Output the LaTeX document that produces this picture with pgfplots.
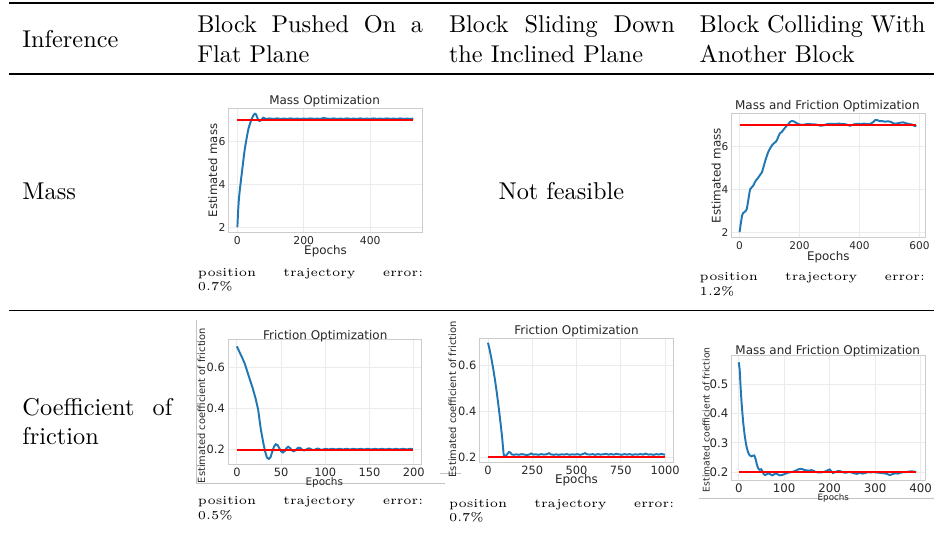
\documentclass[border=0pt]{standalone}
\usepackage{fontspec}
\usepackage{pgfplots}
\pgfplotsset{compat=1.18}
\newfontfamily\dejavu{DejaVu Sans}
\definecolor{mplblue}{HTML}{1F77B4}
\definecolor{mplred}{HTML}{FF0000}
\definecolor{frameg}{HTML}{CCCCCC}
\definecolor{gridg}{HTML}{EBEBEB}
\definecolor{txt}{HTML}{262626}
\definecolor{artg}{HTML}{C4C4C4}
\def\pxs{0.41118}
\pgfplotsset{
  mpl/.style={
    scale only axis, width=79.7pt, height=51.3pt, anchor=south west,
    axis line style={draw=frameg, line width=0.45pt},
    grid=major, major grid style={draw=gridg, line width=0.4pt},
    major tick length=0pt, minor tick length=0pt, tick style={draw=none},
    /pgf/number format/assume math mode=true,
    /pgf/number format/1000 sep={},
    xticklabel style={inner sep=1.3pt, text=txt},
    yticklabel style={inner sep=1.1pt, text=txt},
    title style={anchor=center, inner sep=0pt, yshift=-6.6pt, text=txt, font=\dejavu\fontsize{4.93}{5.5}\selectfont},
    xlabel style={anchor=center, inner sep=0pt, text=txt},
    ylabel style={anchor=center, inner sep=0pt, text=txt},
  },
  tfs/.style={tick label style={font=\dejavu\fontsize{#1}{#1}\selectfont}},
  xfs/.style={xlabel style={font=\dejavu\fontsize{#1}{#1}\selectfont}},
  yfs/.style={ylabel style={font=\dejavu\fontsize{#1}{#1}\selectfont}},
  blue line/.style={mplblue, line width=0.8pt, no marks},
  red line/.style={mplred, line width=0.8pt, no marks},
}
\begin{document}
\begin{tikzpicture}
\begin{scope}[x=\pxs pt, y=-\pxs pt]
\useasboundingbox (0,0) rectangle (935,535);
% rules
\draw[line width=0.8pt] (9,2.6) -- (935,2.6);
\draw[line width=0.7pt] (9,74.3) -- (935,74.3);
\draw[line width=0.6pt] (9,310.8) -- (935,310.8);
% image border artefacts
\draw[artg, line width=0.4pt] (196.7,320) -- (196.7,483.5) -- (445,483.5);
\draw[artg, line width=0.4pt] (440,474.3) -- (461.7,474.3);
\draw[artg, line width=0.4pt] (700,499.3) -- (935,499.3);
% header
\node[anchor=base west, inner sep=0pt] at (22,48) {Inference};
\node[anchor=base west, inner sep=0pt] at (197,33) {\parbox[t]{92.93pt}{Block Pushed On a\linebreak Flat Plane}};
\node[anchor=base west, inner sep=0pt] at (449,33) {\parbox[t]{92.93pt}{Block Sliding Down\linebreak the Inclined Plane}};
\node[anchor=base west, inner sep=0pt] at (700,33) {\parbox[t]{92.93pt}{Block Colliding With\linebreak Another Block}};
% rows
\node[anchor=base west, inner sep=0pt] at (22,200) {Mass};
\node[anchor=base, inner sep=0pt] at (562,200) {Not feasible};
\node[anchor=base west, inner sep=0pt] at (22,416) {\parbox[t]{61.68pt}{Coefficient of\linebreak friction}};
% error notes
\node[anchor=base west, inner sep=0pt] at (197.7,276.7) {\parbox[t]{92.7pt}{\tiny position trajectory error:\linebreak 0.7\%}};
\node[anchor=base west, inner sep=0pt] at (700,281) {\parbox[t]{92.7pt}{\tiny position trajectory error:\linebreak 1.2\%}};
\node[anchor=base west, inner sep=0pt] at (197.7,505) {\parbox[t]{92.7pt}{\tiny position trajectory error:\linebreak 0.5\%}};
\node[anchor=base west, inner sep=0pt] at (449,507.7) {\parbox[t]{92.7pt}{\tiny position trajectory error:\linebreak 0.7\%}};
\end{scope}

% ---------- Plot 1: mass, flat plane ----------
\begin{axis}[mpl, at={(229*\pxs pt,-233*\pxs pt)},
  xmin=-26, xmax=557, ymin=1.74, ymax=7.55,
  xtick={0,200,400}, ytick={2,4,6}, tfs=4.45, xfs=4.9, yfs=4.8,
  title={Mass Optimization}, title style={at={(axis description cs:0.495,1.064)}},
  xlabel={Epochs}, xlabel style={at={(axis description cs:0.5,-0.152)}},
  ylabel={Estimated mass}, ylabel style={at={(axis description cs:-0.0825,0.5)}}]
\addplot[blue line] coordinates {(0,2.0) (2,2.7) (4,3.2) (6,3.55) (9,3.96) (12,4.35) (15,4.73) (18,5.12) (21,5.5) (24,5.8) (27,6.07) (30,6.33) (33,6.57) (36,6.73) (39,6.87) (43,7.04) (47,7.18) (50,7.25) (53,7.29) (56,7.26) (59,7.15) (62,7.03) (66,6.95) (70,6.97) (74,7.04) (78,7.1) (82,7.08) (86,7.04) (90,7.05) (95,7.07) (100,7.06) (110,7.05) (120,7.07) (130,7.05) (140,7.06) (150,7.05) (160,7.07) (170,7.05) (180,7.06) (190,7.05) (200,7.06) (210,7.05) (220,7.07) (230,7.05) (240,7.06) (250,7.05) (260,7.09) (270,7.06) (280,7.05) (290,7.07) (300,7.05) (310,7.06) (320,7.05) (330,7.07) (340,7.05) (350,7.06) (360,7.05) (370,7.07) (380,7.05) (390,7.06) (400,7.05) (410,7.07) (420,7.05) (430,7.06) (440,7.05) (450,7.07) (460,7.05) (470,7.06) (480,7.05) (490,7.07) (500,7.05) (510,7.06) (520,7.05) (530,7.06)};
\addplot[red line] coordinates {(0,7) (530,7)};
\end{axis}

% ---------- Plot 2: mass, colliding ----------
\begin{axis}[mpl, at={(732.3*\pxs pt,-238*\pxs pt)},
  xmin=-27, xmax=619, ymin=1.736, ymax=7.55,
  xtick={0,200,400,600}, ytick={2,4,6}, tfs=4.35, xfs=4.9, yfs=4.9,
  title={Mass and Friction Optimization}, title style={at={(axis description cs:0.495,1.064)}},
  xlabel={Epochs}, xlabel style={at={(axis description cs:0.5,-0.154)}},
  ylabel={Estimated mass}, ylabel style={at={(axis description cs:-0.079,0.5)}}]
\addplot[blue line] coordinates {(0,2.0) (4,2.4) (8,2.75) (11,2.88) (15,2.92) (20,2.98) (24,3.08) (28,3.4) (33,3.85) (36,4.02) (40,4.08) (45,4.15) (50,4.3) (55,4.42) (60,4.5) (65,4.6) (70,4.7) (75,4.8) (80,5.05) (85,5.3) (90,5.52) (95,5.72) (100,5.86) (105,5.98) (110,6.08) (115,6.15) (120,6.2) (125,6.3) (130,6.48) (135,6.62) (140,6.66) (145,6.75) (150,6.84) (156,6.94) (162,7.02) (168,7.14) (174,7.18) (180,7.17) (186,7.12) (192,7.07) (200,7.02) (210,7.0) (220,7.03) (230,7.04) (240,7.03) (250,7.03) (260,7.0) (270,6.96) (280,6.98) (290,7.03) (300,7.05) (310,7.05) (320,7.04) (330,7.06) (340,7.05) (350,7.04) (360,7.0) (368,6.96) (375,7.0) (385,7.04) (395,7.05) (405,7.04) (415,7.06) (425,7.04) (435,7.04) (445,7.12) (452,7.22) (460,7.22) (468,7.17) (475,7.18) (485,7.15) (495,7.17) (505,7.14) (512,7.08) (520,7.05) (528,7.08) (535,7.1) (545,7.12) (555,7.08) (565,7.04) (575,7.02) (582,6.96) (590,6.94)};
\addplot[red line] coordinates {(0,7) (590,7)};
\end{axis}

% ---------- Plot 3: friction, flat plane ----------
\begin{axis}[mpl, at={(228.3*\pxs pt,-465*\pxs pt)},
  xmin=-10, xmax=209, ymin=0.128, ymax=0.7315,
  xtick={0,50,100,150,200}, ytick={0.2,0.4,0.6}, tfs=4.7, xfs=4.3, yfs=4.07,
  title={Friction Optimization}, title style={at={(axis description cs:0.502,1.042)}},
  xlabel={Epochs}, xlabel style={at={(axis description cs:0.497,-0.146)}},
  ylabel={Estimated coefficient of friction}, ylabel style={at={(axis description cs:-0.137,0.473)}}]
\addplot[blue line] coordinates {(0,0.70) (3,0.672) (6,0.645) (9,0.615) (12,0.575) (15,0.535) (18,0.496) (21,0.45) (24,0.395) (27,0.3) (30,0.23) (32,0.19) (34,0.162) (36,0.155) (38,0.163) (40,0.19) (42,0.215) (44,0.226) (46,0.222) (48,0.207) (50,0.192) (52,0.186) (54,0.193) (56,0.207) (58,0.214) (60,0.208) (62,0.197) (64,0.192) (66,0.196) (68,0.205) (70,0.21) (72,0.207) (74,0.199) (76,0.196) (78,0.199) (80,0.205) (82,0.206) (84,0.202) (86,0.198) (88,0.199) (90,0.204) (92,0.205) (94,0.201) (96,0.199) (98,0.201) (100,0.204) (104,0.201) (108,0.204) (112,0.201) (116,0.204) (120,0.201) (124,0.204) (128,0.201) (132,0.204) (136,0.201) (140,0.204) (144,0.201) (148,0.204) (152,0.201) (156,0.204) (160,0.201) (164,0.204) (168,0.201) (172,0.204) (176,0.201) (180,0.204) (184,0.201) (188,0.204) (192,0.201) (196,0.204) (199,0.202)};
\addplot[red line] coordinates {(0,0.2) (199,0.2)};
\end{axis}

% ---------- Plot 4: friction, inclined plane ----------
\begin{axis}[mpl, at={(480*\pxs pt,-463.3*\pxs pt)},
  xmin=-48, xmax=1045, ymin=0.175, ymax=0.72,
  xtick={0,250,500,750,1000}, ytick={0.2,0.4,0.6}, tfs=4.7, xfs=4.93, yfs=4.1,
  title={Friction Optimization}, title style={at={(axis description cs:0.501,1.069)}},
  xlabel={Epochs}, xlabel style={at={(axis description cs:0.501,-0.143)}},
  ylabel={Estimated coefficient of friction}, ylabel style={at={(axis description cs:-0.14,0.51)}}]
\addplot[blue line] coordinates {(0,0.70) (10,0.667) (20,0.628) (30,0.584) (40,0.535) (50,0.48) (60,0.42) (70,0.355) (80,0.285) (88,0.215) (92,0.202) (100,0.205) (110,0.214) (118,0.222) (126,0.22) (134,0.212) (145,0.21) (160,0.212) (175,0.21) (190,0.213) (205,0.211) (220,0.209) (235,0.212) (245,0.216) (255,0.211) (270,0.212) (285,0.21) (300,0.213) (315,0.211) (330,0.212) (345,0.217) (355,0.212) (370,0.21) (385,0.212) (400,0.21) (415,0.212) (430,0.211) (445,0.213) (460,0.21) (475,0.212) (490,0.211) (505,0.213) (520,0.21) (535,0.213) (548,0.217) (560,0.212) (575,0.211) (590,0.213) (605,0.21) (620,0.213) (635,0.211) (650,0.212) (665,0.214) (680,0.211) (695,0.213) (710,0.211) (725,0.214) (740,0.212) (755,0.21) (770,0.213) (785,0.211) (800,0.213) (815,0.21) (830,0.212) (845,0.211) (860,0.213) (875,0.211) (890,0.215) (905,0.211) (920,0.212) (935,0.21) (950,0.213) (965,0.211) (980,0.214) (999,0.21)};
\addplot[red line] coordinates {(0,0.2) (999,0.2)};
\end{axis}

% ---------- Plot 5: friction, colliding ----------
\begin{axis}[mpl, at={(732.3*\pxs pt,-481*\pxs pt)},
  xmin=-16, xmax=410, ymin=0.1715, ymax=0.597,
  xtick={0,100,200,300,400}, ytick={0.2,0.3,0.4,0.5}, tfs=4.85, xfs=3.6, yfs=3.8,
  title={Mass and Friction Optimization}, title style={at={(axis description cs:0.497,1.046)}},
  xlabel={Epochs}, xlabel style={at={(axis description cs:0.526,-0.145)}},
  ylabel={Estimated coefficient of friction}, ylabel style={at={(axis description cs:-0.131,0.487)}}]
\addplot[blue line] coordinates {(0,0.575) (2,0.55) (4,0.49) (6,0.44) (8,0.4) (10,0.365) (13,0.325) (16,0.295) (19,0.275) (22,0.262) (25,0.256) (28,0.254) (31,0.256) (34,0.257) (37,0.245) (40,0.225) (43,0.212) (46,0.208) (49,0.21) (52,0.203) (55,0.193) (58,0.19) (62,0.193) (66,0.196) (70,0.192) (74,0.189) (78,0.193) (82,0.196) (86,0.192) (90,0.189) (95,0.19) (100,0.193) (105,0.196) (110,0.199) (115,0.2) (120,0.202) (125,0.205) (130,0.209) (135,0.211) (140,0.21) (145,0.207) (150,0.206) (155,0.205) (160,0.207) (165,0.204) (170,0.2) (175,0.199) (180,0.199) (185,0.2) (190,0.202) (195,0.206) (200,0.209) (203,0.204) (207,0.197) (212,0.2) (218,0.204) (224,0.203) (230,0.199) (236,0.198) (242,0.201) (248,0.199) (254,0.196) (260,0.194) (266,0.198) (272,0.195) (278,0.197) (284,0.2) (290,0.199) (296,0.2) (302,0.199) (308,0.198) (314,0.197) (320,0.196) (326,0.194) (332,0.19) (338,0.193) (344,0.196) (350,0.195) (356,0.198) (362,0.2) (368,0.2) (374,0.202) (380,0.203) (385,0.202) (390,0.2)};
\addplot[red line] coordinates {(0,0.2) (390,0.2)};
\end{axis}
\end{tikzpicture}
\end{document}
